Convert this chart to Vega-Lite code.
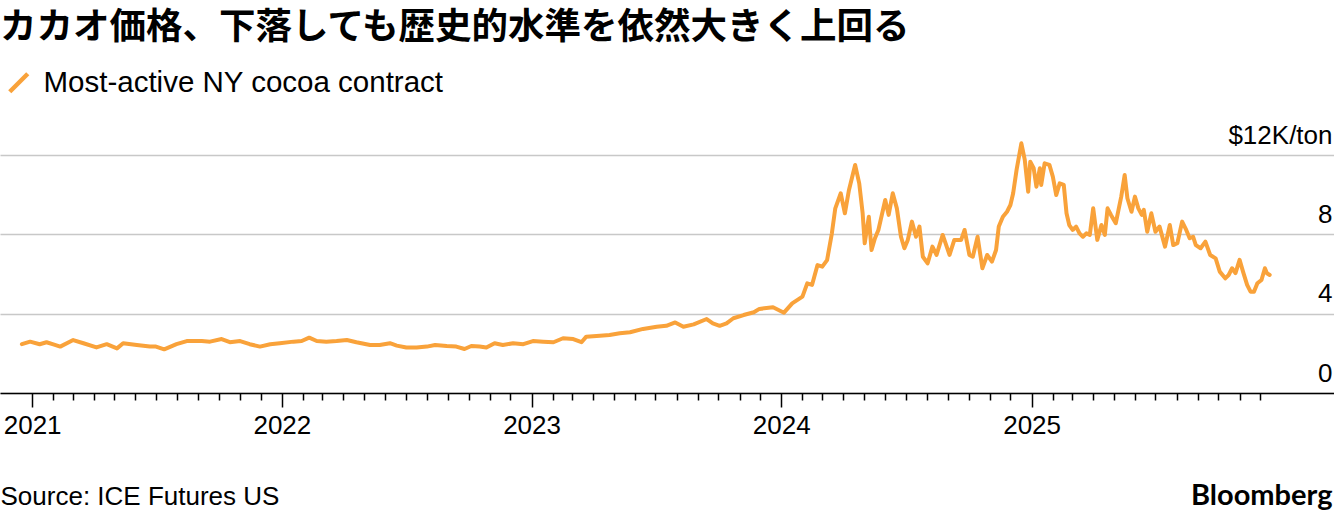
{
  "$schema": "https://vega.github.io/schema/vega-lite/v6.json",
  "width": 1334,
  "height": 238,
  "autosize": {"type": "none"},
  "padding": {"top": 155, "left": 0, "right": 0, "bottom": 121},
  "background": "white",
  "title": {
    "text": "カカオ価格、下落しても歴史的水準を依然大きく上回る",
    "anchor": "start",
    "frame": "group",
    "font": "Noto Sans CJK JP",
    "fontSize": 36.5,
    "fontWeight": "bold",
    "color": "#000000",
    "offset": 22
  },
  "data": {
    "values": [
      {"date": "2020-12-17", "price": 2.46},
      {"date": "2020-12-29", "price": 2.59},
      {"date": "2021-01-12", "price": 2.46},
      {"date": "2021-01-22", "price": 2.56},
      {"date": "2021-02-01", "price": 2.45},
      {"date": "2021-02-11", "price": 2.34},
      {"date": "2021-03-02", "price": 2.67},
      {"date": "2021-03-17", "price": 2.51},
      {"date": "2021-04-05", "price": 2.30},
      {"date": "2021-04-20", "price": 2.46},
      {"date": "2021-05-05", "price": 2.25},
      {"date": "2021-05-14", "price": 2.51},
      {"date": "2021-06-03", "price": 2.42},
      {"date": "2021-06-22", "price": 2.34},
      {"date": "2021-07-01", "price": 2.34},
      {"date": "2021-07-13", "price": 2.20},
      {"date": "2021-07-31", "price": 2.46},
      {"date": "2021-08-15", "price": 2.62},
      {"date": "2021-09-06", "price": 2.62},
      {"date": "2021-09-18", "price": 2.59},
      {"date": "2021-10-05", "price": 2.72},
      {"date": "2021-10-17", "price": 2.56},
      {"date": "2021-11-01", "price": 2.62},
      {"date": "2021-11-15", "price": 2.46},
      {"date": "2021-11-30", "price": 2.34},
      {"date": "2021-12-15", "price": 2.46},
      {"date": "2021-12-29", "price": 2.51},
      {"date": "2022-01-18", "price": 2.59},
      {"date": "2022-01-30", "price": 2.62},
      {"date": "2022-02-10", "price": 2.79},
      {"date": "2022-02-21", "price": 2.62},
      {"date": "2022-03-07", "price": 2.59},
      {"date": "2022-03-22", "price": 2.62},
      {"date": "2022-04-06", "price": 2.67},
      {"date": "2022-04-20", "price": 2.56},
      {"date": "2022-05-10", "price": 2.42},
      {"date": "2022-05-24", "price": 2.42},
      {"date": "2022-06-08", "price": 2.51},
      {"date": "2022-06-18", "price": 2.39},
      {"date": "2022-07-02", "price": 2.29},
      {"date": "2022-07-17", "price": 2.29},
      {"date": "2022-08-01", "price": 2.34},
      {"date": "2022-08-13", "price": 2.42},
      {"date": "2022-08-30", "price": 2.37},
      {"date": "2022-09-13", "price": 2.34},
      {"date": "2022-09-25", "price": 2.22},
      {"date": "2022-10-05", "price": 2.37},
      {"date": "2022-10-17", "price": 2.34},
      {"date": "2022-10-27", "price": 2.29},
      {"date": "2022-11-08", "price": 2.51},
      {"date": "2022-11-20", "price": 2.42},
      {"date": "2022-12-05", "price": 2.51},
      {"date": "2022-12-20", "price": 2.46},
      {"date": "2023-01-03", "price": 2.62},
      {"date": "2023-01-18", "price": 2.59},
      {"date": "2023-02-02", "price": 2.56},
      {"date": "2023-02-16", "price": 2.76},
      {"date": "2023-03-03", "price": 2.72},
      {"date": "2023-03-15", "price": 2.56},
      {"date": "2023-03-22", "price": 2.84},
      {"date": "2023-04-11", "price": 2.89},
      {"date": "2023-04-25", "price": 2.92},
      {"date": "2023-05-10", "price": 3.01},
      {"date": "2023-05-25", "price": 3.06},
      {"date": "2023-06-13", "price": 3.23},
      {"date": "2023-07-03", "price": 3.34},
      {"date": "2023-07-17", "price": 3.39},
      {"date": "2023-07-30", "price": 3.56},
      {"date": "2023-08-11", "price": 3.34},
      {"date": "2023-08-26", "price": 3.46},
      {"date": "2023-09-14", "price": 3.73},
      {"date": "2023-09-23", "price": 3.51},
      {"date": "2023-10-03", "price": 3.39},
      {"date": "2023-10-13", "price": 3.51},
      {"date": "2023-10-23", "price": 3.77},
      {"date": "2023-11-07", "price": 3.93},
      {"date": "2023-11-22", "price": 4.07},
      {"date": "2023-11-30", "price": 4.24},
      {"date": "2023-12-20", "price": 4.32},
      {"date": "2024-01-05", "price": 4.05},
      {"date": "2024-01-17", "price": 4.52},
      {"date": "2024-02-01", "price": 4.86},
      {"date": "2024-02-08", "price": 5.53},
      {"date": "2024-02-15", "price": 5.45},
      {"date": "2024-02-23", "price": 6.45},
      {"date": "2024-03-01", "price": 6.37},
      {"date": "2024-03-08", "price": 6.70},
      {"date": "2024-03-15", "price": 8.05},
      {"date": "2024-03-20", "price": 9.31},
      {"date": "2024-03-28", "price": 10.07},
      {"date": "2024-04-03", "price": 9.06},
      {"date": "2024-04-09", "price": 10.24},
      {"date": "2024-04-18", "price": 11.50},
      {"date": "2024-04-24", "price": 10.57},
      {"date": "2024-04-29", "price": 9.06},
      {"date": "2024-05-02", "price": 7.55},
      {"date": "2024-05-08", "price": 8.89},
      {"date": "2024-05-12", "price": 7.21},
      {"date": "2024-05-17", "price": 7.80},
      {"date": "2024-05-22", "price": 8.22},
      {"date": "2024-06-01", "price": 9.73},
      {"date": "2024-06-06", "price": 8.98},
      {"date": "2024-06-12", "price": 10.07},
      {"date": "2024-06-18", "price": 9.31},
      {"date": "2024-06-24", "price": 7.88},
      {"date": "2024-06-29", "price": 7.30},
      {"date": "2024-07-04", "price": 7.72},
      {"date": "2024-07-10", "price": 8.64},
      {"date": "2024-07-16", "price": 7.88},
      {"date": "2024-07-21", "price": 8.39},
      {"date": "2024-07-26", "price": 6.87},
      {"date": "2024-08-02", "price": 6.54},
      {"date": "2024-08-09", "price": 7.38},
      {"date": "2024-08-15", "price": 6.96},
      {"date": "2024-08-24", "price": 7.97},
      {"date": "2024-09-03", "price": 6.96},
      {"date": "2024-09-10", "price": 7.72},
      {"date": "2024-09-20", "price": 7.72},
      {"date": "2024-09-25", "price": 8.22},
      {"date": "2024-10-02", "price": 6.96},
      {"date": "2024-10-07", "price": 6.87},
      {"date": "2024-10-14", "price": 7.88},
      {"date": "2024-10-21", "price": 6.29},
      {"date": "2024-10-28", "price": 6.96},
      {"date": "2024-11-04", "price": 6.62},
      {"date": "2024-11-10", "price": 7.21},
      {"date": "2024-11-14", "price": 8.39},
      {"date": "2024-11-20", "price": 8.89},
      {"date": "2024-11-26", "price": 9.14},
      {"date": "2024-12-01", "price": 9.48},
      {"date": "2024-12-05", "price": 10.07},
      {"date": "2024-12-10", "price": 11.25},
      {"date": "2024-12-17", "price": 12.59},
      {"date": "2024-12-22", "price": 11.75},
      {"date": "2024-12-27", "price": 10.15},
      {"date": "2024-12-30", "price": 11.66},
      {"date": "2025-01-04", "price": 11.33},
      {"date": "2025-01-08", "price": 10.40},
      {"date": "2025-01-13", "price": 11.33},
      {"date": "2025-01-15", "price": 10.49},
      {"date": "2025-01-20", "price": 11.58},
      {"date": "2025-01-27", "price": 11.50},
      {"date": "2025-02-01", "price": 10.91},
      {"date": "2025-02-06", "price": 9.98},
      {"date": "2025-02-11", "price": 10.57},
      {"date": "2025-02-17", "price": 10.49},
      {"date": "2025-02-21", "price": 9.06},
      {"date": "2025-02-25", "price": 8.47},
      {"date": "2025-03-02", "price": 8.22},
      {"date": "2025-03-07", "price": 8.39},
      {"date": "2025-03-12", "price": 8.05},
      {"date": "2025-03-17", "price": 7.88},
      {"date": "2025-03-22", "price": 8.05},
      {"date": "2025-03-27", "price": 7.97},
      {"date": "2025-04-01", "price": 9.31},
      {"date": "2025-04-07", "price": 7.72},
      {"date": "2025-04-13", "price": 8.47},
      {"date": "2025-04-18", "price": 7.97},
      {"date": "2025-04-22", "price": 9.31},
      {"date": "2025-04-27", "price": 8.98},
      {"date": "2025-05-04", "price": 8.56},
      {"date": "2025-05-08", "price": 9.23},
      {"date": "2025-05-12", "price": 9.90},
      {"date": "2025-05-17", "price": 10.99},
      {"date": "2025-05-21", "price": 9.82},
      {"date": "2025-05-27", "price": 9.14},
      {"date": "2025-06-01", "price": 9.90},
      {"date": "2025-06-06", "price": 9.31},
      {"date": "2025-06-11", "price": 8.98},
      {"date": "2025-06-14", "price": 9.23},
      {"date": "2025-06-19", "price": 8.13},
      {"date": "2025-06-25", "price": 9.06},
      {"date": "2025-07-01", "price": 8.13},
      {"date": "2025-07-07", "price": 8.39},
      {"date": "2025-07-15", "price": 7.38},
      {"date": "2025-07-22", "price": 8.47},
      {"date": "2025-07-27", "price": 7.46},
      {"date": "2025-08-02", "price": 7.55},
      {"date": "2025-08-09", "price": 8.64},
      {"date": "2025-08-15", "price": 8.22},
      {"date": "2025-08-20", "price": 7.80},
      {"date": "2025-08-25", "price": 7.88},
      {"date": "2025-08-29", "price": 7.46},
      {"date": "2025-09-05", "price": 7.30},
      {"date": "2025-09-12", "price": 7.63},
      {"date": "2025-09-19", "price": 6.96},
      {"date": "2025-09-27", "price": 6.79},
      {"date": "2025-10-03", "price": 6.12},
      {"date": "2025-10-11", "price": 5.78},
      {"date": "2025-10-16", "price": 5.95},
      {"date": "2025-10-21", "price": 6.29},
      {"date": "2025-10-26", "price": 6.04},
      {"date": "2025-11-01", "price": 6.71},
      {"date": "2025-11-06", "price": 6.12},
      {"date": "2025-11-12", "price": 5.45},
      {"date": "2025-11-17", "price": 5.11},
      {"date": "2025-11-22", "price": 5.11},
      {"date": "2025-11-27", "price": 5.53},
      {"date": "2025-12-03", "price": 5.70},
      {"date": "2025-12-08", "price": 6.29},
      {"date": "2025-12-11", "price": 6.04},
      {"date": "2025-12-15", "price": 5.95}
    ]
  },
  "mark": {"type": "line", "strokeWidth": 4, "strokeJoin": "round", "strokeCap": "round"},
  "encoding": {
    "x": {
      "field": "date",
      "type": "temporal",
      "scale": {
        "domain": [
          {"year": 2020, "month": 11, "date": 15},
          {"year": 2026, "month": 3, "date": 19}
        ]
      },
      "axis": {
        "title": "Source: ICE Futures US",
        "titleAnchor": "start",
        "titleAlign": "left",
        "titleX": 0,
        "titleY": 111,
        "titleBaseline": "alphabetic",
        "titleFont": "Liberation Sans",
        "titleFontSize": 26,
        "titleFontWeight": "normal",
        "titleColor": "#000000",
        "tickCount": {"interval": "month", "step": 1},
        "labelExpr": "month(datum.value) == 0 && year(datum.value) <= 2025 ? timeFormat(datum.value, '%Y') : ''",
        "tickSize": {"condition": {"test": "month(datum.value) != 0", "value": 7}, "value": 14},
        "tickOpacity": {"condition": {"test": "datum.value < datetime(2021, 0, 1) || datum.value > datetime(2025, 11, 15)", "value": 0}, "value": 1},
        "tickColor": "#000000",
        "tickWidth": 1.5,
        "domainColor": "#000000",
        "domainWidth": 1.5,
        "grid": false,
        "labelFont": "Liberation Sans",
        "labelFontSize": 26,
        "labelColor": "#000000",
        "labelPadding": 5,
        "labelBaseline": "top",
        "labelAlign": "center",
        "labelOverlap": false,
        "labelFlush": false,
        "zindex": 1
      }
    },
    "y": {
      "field": "price",
      "type": "quantitative",
      "scale": {"domain": [0, 12]},
      "axis": {
        "orient": "right",
        "values": [0, 4, 8, 12],
        "domain": false,
        "ticks": false,
        "tickSize": 0,
        "grid": true,
        "gridColor": "#c8c8c8",
        "gridWidth": 1.5,
        "labelAlign": "right",
        "labelBaseline": "alphabetic",
        "labelPadding": -2,
        "labelOffset": -12,
        "labelFont": "Liberation Sans",
        "labelFontSize": 26,
        "labelColor": "#000000",
        "labelExpr": "datum.value == 12 ? '$12K/ton' : datum.label",
        "title": "Bloomberg",
        "titleAngle": 0,
        "titleAlign": "right",
        "titleBaseline": "alphabetic",
        "titleX": -2,
        "titleY": 349,
        "titleFont": "Lato",
        "titleFontSize": 29,
        "titleFontWeight": "bold",
        "titleColor": "#000000"
      }
    },
    "color": {
      "datum": "Most-active NY cocoa contract",
      "type": "nominal",
      "scale": {"range": ["#F9A23A"]},
      "legend": {
        "orient": "none",
        "legendX": 4,
        "legendY": -87,
        "title": null,
        "padding": 0,
        "symbolType": "M-1,1L1,-1",
        "symbolSize": 324,
        "symbolStrokeWidth": 4.5,
        "labelFont": "Liberation Sans",
        "labelFontSize": 29.5,
        "labelLimit": 0,
        "labelColor": "#000000",
        "labelOffset": 10
      }
    }
  },
  "config": {"view": {"stroke": null}}
}
